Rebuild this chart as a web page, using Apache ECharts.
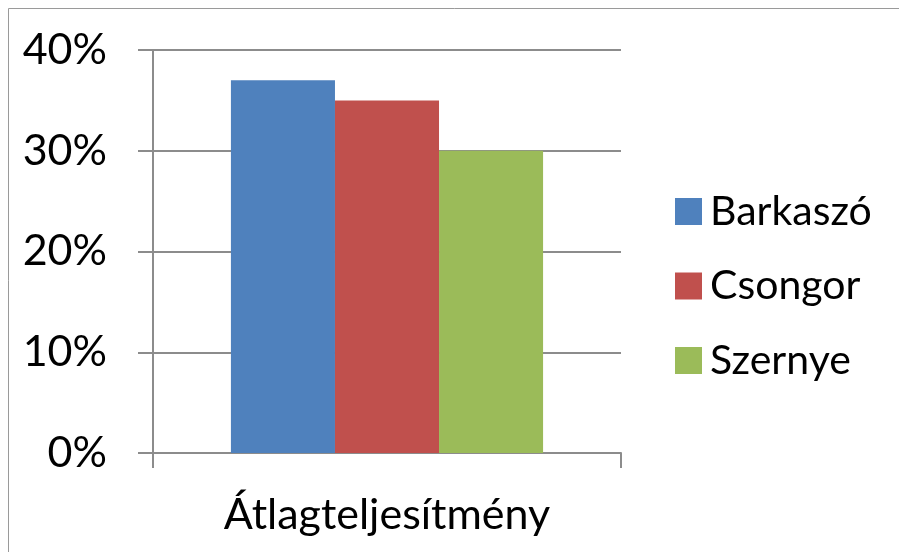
<!DOCTYPE html>
<html>
<head>
<meta charset="utf-8">
<script src="https://cdn.jsdelivr.net/npm/echarts@6/dist/echarts.min.js"></script>
<style>
  html, body { margin: 0; padding: 0; background: #ffffff; }
  #chart { width: 899px; height: 552px; }
</style>
</head>
<body>
<div id="chart"></div>
<script>
// Category and series data (percent values)
var categories = ['Átlagteljesítmény'];
var seriesNames = ['Barkaszó', 'Csongor', 'Szernye'];
var barkaszo = [37];
var csongor = [35];
var szernye = [30];
var yTicks = [0, 10, 20, 30, 40];

var colors = ['#4F81BD', '#C0504D', '#9BBB59'];
var lineGray = '#8C8C8C';
var font = 'Lato, "Noto Sans", sans-serif';

var chart = echarts.init(document.getElementById('chart'), null, { renderer: 'canvas' });

var values = [barkaszo, csongor, szernye];

chart.setOption({
  backgroundColor: '#ffffff',
  animation: false,
  color: colors,
  graphic: [{
    type: 'rect',
    shape: { x: 8.5, y: 8.5, width: 1000, height: 1000 },
    style: { fill: 'none', stroke: '#9A9A9A', lineWidth: 1 },
    silent: true
  }],
  grid: { left: 153, right: 278, top: 50, bottom: 99, containLabel: false },
  legend: {
    orient: 'vertical',
    left: 670,
    top: 186,
    itemWidth: 27,
    itemHeight: 27,
    itemGap: 33.5,
    icon: 'rect',
    data: seriesNames,
    textStyle: {
      fontFamily: font,
      fontSize: 41,
      color: '#000000',
      padding: [0, 0, 0, 3]
    }
  },
  xAxis: {
    type: 'category',
    data: categories,
    boundaryGap: true,
    axisLine: { show: true, lineStyle: { color: lineGray, width: 2 } },
    axisTick: { show: true, length: 15, lineStyle: { color: lineGray, width: 2 } },
    axisLabel: { fontFamily: font, fontSize: 43, color: '#000000', margin: 41 },
    splitLine: { show: false }
  },
  yAxis: {
    type: 'value',
    min: yTicks[0],
    max: yTicks[yTicks.length - 1],
    interval: 10,
    axisLine: { show: true, lineStyle: { color: lineGray, width: 2 } },
    axisTick: { show: true, length: 15, lineStyle: { color: lineGray, width: 2 } },
    axisLabel: {
      fontFamily: font, fontSize: 43, color: '#000000', margin: 46,
      formatter: function (v) { return v + '%'; }
    },
    splitLine: { show: true, lineStyle: { color: lineGray, width: 2 } }
  },
  series: seriesNames.map(function (name, i) {
    return {
      name: name,
      type: 'bar',
      data: values[i],
      barGap: '0%',
      barCategoryGap: '33.3%',
      itemStyle: { color: colors[i] }
    };
  })
});
</script>
</body>
</html>
